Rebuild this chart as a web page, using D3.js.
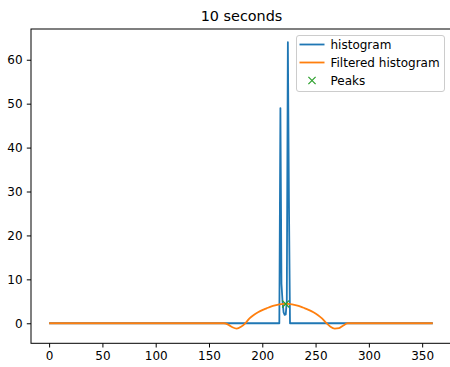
<!DOCTYPE html>
<html>
<head>
<meta charset="utf-8">
<script src="https://cdn.jsdelivr.net/npm/d3@7"></script>
<style>
  html, body { margin: 0; padding: 0; background: #fff; }
  svg { display: block; font-family: "DejaVu Sans", sans-serif; }
</style>
</head>
<body>
<svg id="chart" width="450" height="367"></svg>
<script>
// Raw histogram (angle bins) - zero outside the two spikes
const histX = [0, 216, 217, 218, 219, 220, 221, 222, 223, 224, 225, 226, 360];
const histY = [0, 0, 49, 9, 5, 2.5, 1.9, 2, 5, 64, 28, 0, 0];

// Smoothed histogram
const filtX = [0, 164, 168, 172, 176, 180, 184, 188, 192, 196, 200, 204, 208, 212, 216, 220, 224, 228, 232, 236, 240, 244, 248, 252, 256, 260, 264, 268, 272, 276, 280, 360];
const filtY = [0, 0, -0.3, -0.9, -1.2, -0.8, 0, 1.1, 1.9, 2.5, 3.0, 3.4, 3.8, 4.1, 4.3, 4.4, 4.4, 4.3, 4.1, 3.8, 3.4, 3.0, 2.5, 1.9, 1.1, 0.1, -0.8, -1.2, -1.1, -0.5, 0, 0];

// Detected peaks of the smoothed histogram
const peakX = [222];
const peakY = [4.4];

const xTicks = [0, 50, 100, 150, 200, 250, 300, 350];
const yTicks = [0, 10, 20, 30, 40, 50, 60];

const title = "10 seconds";
const seriesNames = ["histogram", "Filtered histogram", "Peaks"];
const colors = ["#1f77b4", "#ff7f0e", "#2ca02c"];

const svg = d3.select("#chart");
const plot = { left: 31, right: 452, top: 29, bottom: 343.3 };
const fontSize = 12, lineW = 1.8, tickLen = 4.2;

const x = d3.scaleLinear().domain([-17, 378]).range([plot.left, plot.right]);
const y = d3.scaleLinear().domain([-4.56, 67.0]).range([plot.bottom, plot.top]);

svg.append("defs").append("clipPath").attr("id", "clip")
  .append("rect")
  .attr("x", plot.left).attr("y", plot.top)
  .attr("width", plot.right - plot.left).attr("height", plot.bottom - plot.top);

const g = svg.append("g").attr("clip-path", "url(#clip)");

const histData = histX.map((d, i) => [d, histY[i]]);
const filtData = filtX.map((d, i) => [d, filtY[i]]);

g.append("path")
  .datum(histData)
  .attr("fill", "none")
  .attr("stroke", colors[0])
  .attr("stroke-width", lineW)
  .attr("stroke-linejoin", "round")
  .attr("d", d3.line().x(d => x(d[0])).y(d => y(d[1])));

g.append("path")
  .datum(filtData)
  .attr("fill", "none")
  .attr("stroke", colors[1])
  .attr("stroke-width", lineW)
  .attr("stroke-linejoin", "round")
  .attr("d", d3.line().curve(d3.curveMonotoneX).x(d => x(d[0])).y(d => y(d[1])));

// x markers for peaks
const xMark = (cx, cy, s) => `M${cx - s},${cy - s}L${cx + s},${cy + s}M${cx - s},${cy + s}L${cx + s},${cy - s}`;
g.selectAll(".peak")
  .data(peakX.map((d, i) => [d, peakY[i]]))
  .join("path")
  .attr("class", "peak")
  .attr("fill", "none")
  .attr("stroke", colors[2])
  .attr("stroke-width", 1.2)
  .attr("d", d => xMark(x(d[0]), y(d[1]), 3.6));

// Axes
const xAxis = svg.append("g")
  .attr("transform", `translate(0,${plot.bottom})`)
  .call(d3.axisBottom(x).tickValues(xTicks).tickSize(tickLen).tickPadding(4.2).tickFormat(d3.format("d")));
const yAxis = svg.append("g")
  .attr("transform", `translate(${plot.left},0)`)
  .call(d3.axisLeft(y).tickValues(yTicks).tickSize(tickLen).tickPadding(4.2).tickFormat(d3.format("d")));

[xAxis, yAxis].forEach(a => {
  a.select(".domain").remove();
  a.selectAll(".tick line").attr("stroke", "#000").attr("stroke-width", 1);
  a.selectAll(".tick text").attr("fill", "#000").style("font-size", fontSize + "px").style("font-family", "DejaVu Sans");
});

// Frame
svg.append("rect")
  .attr("x", plot.left).attr("y", plot.top)
  .attr("width", plot.right - plot.left).attr("height", plot.bottom - plot.top)
  .attr("fill", "none").attr("stroke", "#000").attr("stroke-width", 1);

// Title
svg.append("text")
  .attr("x", (plot.left + plot.right) / 2)
  .attr("y", 21)
  .attr("text-anchor", "middle")
  .style("font-size", "14.4px")
  .text(title);

// Legend
const lg = svg.append("g").attr("transform", "translate(296.5,35.5)");
lg.append("rect")
  .attr("width", 148).attr("height", 56)
  .attr("rx", 2.5).attr("ry", 2.5)
  .attr("fill", "#fff").attr("fill-opacity", 0.8)
  .attr("stroke", "#ccc").attr("stroke-width", 1);

seriesNames.forEach((name, i) => {
  const cy = 9 + i * 18;
  if (i < 2) {
    lg.append("line")
      .attr("x1", 3).attr("x2", 28).attr("y1", cy).attr("y2", cy)
      .attr("stroke", colors[i]).attr("stroke-width", lineW);
  } else {
    lg.append("path")
      .attr("d", xMark(15.5, cy, 3.6))
      .attr("stroke", colors[i]).attr("stroke-width", 1.2).attr("fill", "none");
  }
  lg.append("text")
    .attr("x", 34).attr("y", cy + 4.3)
    .style("font-size", fontSize + "px")
    .text(name);
});
</script>
</body>
</html>
